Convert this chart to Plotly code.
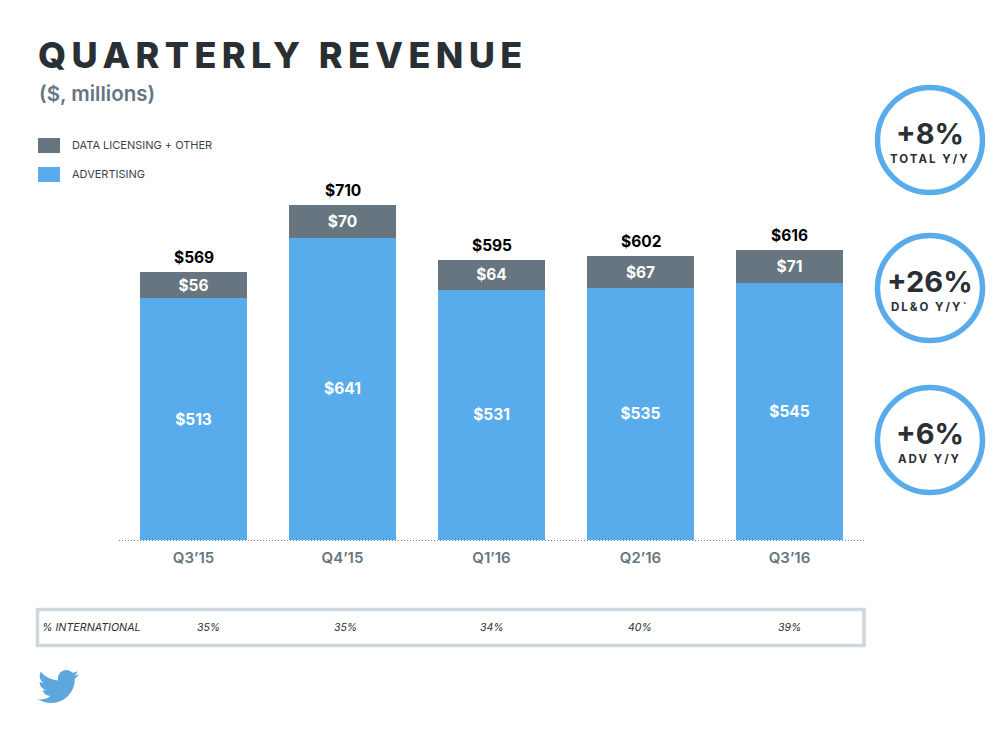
import plotly.graph_objects as go

# ---- data ----
quarters = ["Q3’15", "Q4’15", "Q1’16", "Q2’16", "Q3’16"]
advertising = [513, 641, 531, 535, 545]
data_licensing = [56, 70, 64, 67, 71]
totals = [569, 710, 595, 602, 616]
international = ["35%", "35%", "34%", "40%", "39%"]
kpi_values = ["+8%", "+26%", "+6%"]
kpi_labels = ["TOTAL Y/Y", "DL&O Y/Y`", "ADV Y/Y"]

# ---- style ----
W, H = 1005, 745
BLUE, GREY, DARK, BORDER = "#58acec", "#66757f", "#292f33", "#cdd7df"
FONT = "Inter"
px = lambda x: x / W
py = lambda y: 1 - y / H

fig = go.Figure()
common = dict(x=quarters, width=0.712, textposition="inside", insidetextanchor="middle",
              textangle=0, constraintext="none",
              insidetextfont=dict(family=FONT, size=15.5, color="white", weight=700),
              marker_line_width=0, showlegend=False)
fig.add_bar(y=advertising, name="ADVERTISING", marker_color=BLUE,
            text=[f"${v}" for v in advertising], **common)
fig.add_bar(y=data_licensing, name="DATA LICENSING + OTHER", marker_color=GREY,
            text=[f"${v}" for v in data_licensing], **common)

shapes, notes = [], []


def note(x, y, text, size, color=DARK, weight=400, anchor="center", italic=False):
    notes.append(dict(x=px(x), y=py(y), xref="paper", yref="paper", text=text, showarrow=False,
                      xanchor=anchor, yanchor="middle", borderpad=0,
                      font=dict(family=FONT, size=size, color=color, weight=weight,
                                style="italic" if italic else "normal")))


def rect(x0, y0, x1, y1, **kw):
    shapes.append(dict(type="rect", xref="paper", yref="paper", x0=px(x0), x1=px(x1),
                       y0=py(y0), y1=py(y1), **kw))


# totals above each stack
for q, a, d, t in zip(quarters, advertising, data_licensing, totals):
    notes.append(dict(x=q, y=a + d, xref="x", yref="y", text=f"${t}", showarrow=False,
                      xanchor="center", yanchor="bottom", yshift=4, borderpad=0,
                      font=dict(family=FONT, size=15.5, color="black", weight=700)))

# subtitle
note(38, 94, "($, millions)", 20.5, GREY, 600, "left")

# legend
rect(38, 138, 60, 153, fillcolor=GREY, line_width=0)
rect(38, 167, 60, 182, fillcolor=BLUE, line_width=0)
note(71, 145, "DATA LICENSING + OTHER", 11, "#3a4248", 400, "left")
note(71, 174, "ADVERTISING", 11, "#3a4248", 400, "left")

# dotted baseline
shapes.append(dict(type="line", xref="paper", yref="paper", x0=px(119), x1=px(864),
                   y0=py(540.5), y1=py(540.5), line=dict(color="#777", width=1, dash="1px,2px")))

# international strip
rect(37.5, 609.5, 864, 645.5, line=dict(color=BORDER, width=3.5), fillcolor="rgba(0,0,0,0)")
note(41, 627, "% INTERNATIONAL", 10.7, DARK, 400, "left", True)
for cx, t in zip([208, 345, 492, 640, 789], international):
    note(cx, 627, t, 10.5, DARK, 400, "center", True)

# KPI circles
for cy, val, lab in zip([140, 288, 440], kpi_values, kpi_labels):
    shapes.append(dict(type="circle", xref="paper", yref="paper",
                       x0=px(930 - 52.5), x1=px(930 + 52.5), y0=py(cy - 52.5), y1=py(cy + 52.5),
                       line=dict(color=BLUE, width=5.5), fillcolor="white"))
    note(930, cy - 7, val, 29, DARK, 700)
    note(930, cy + 18.5, lab, 11.5, DARK, 700)

# Twitter bird logo, outlined in a 24-unit icon box
bird = [("M", 23.953, 4.57), ("Q", 22.6, 5.17, 21.128, 5.345), ("Q", 22.7, 4.4, 23.291, 2.622),
        ("C", 22.34, 3.177, 21.286, 3.581, 20.164, 3.806), ("C", 19.26, 2.85, 17.98, 2.1, 16.6, 2.1),
        ("C", 13.9, 2.1, 11.68, 4.3, 11.68, 7), ("C", 11.68, 7.4, 11.72, 7.85, 11.78, 8.288),
        ("C", 7.69, 8.095, 4.067, 6.13, 1.64, 3.162), ("Q", .974, 4.3, .974, 5.637),
        ("C", .974, 7.347, 1.844, 8.85, 3.162, 9.733), ("Q", 1.95, 9.7, .934, 9.117),
        ("L", .934, 9.177), ("Q", .95, 13.0, 4.88, 14.004), ("Q", 3.8, 14.3, 2.668, 14.089),
        ("Q", 3.6, 17.2, 7.272, 17.506), ("Q", 4.6, 19.6, 1.17, 19.611),
        ("C", .78, 19.611, .391, 19.588, 0, 19.544), ("Q", 3.5, 21.75, 7.557, 21.753),
        ("C", 16.61, 21.753, 21.555, 14.257, 21.555, 7.768), ("C", 21.555, 7.558, 21.555, 7.348, 21.54, 7.138),
        ("Q", 23, 6.1, 23.953, 4.57)]
path = ""
for seg in bird:
    pts = seg[1:]
    coords = []
    for i in range(0, len(pts), 2):
        coords.append(f"{px(38 + pts[i] * 1.708):.5f},{py(670 + (pts[i + 1] - 2.1) * 1.68):.5f}")
    path += seg[0] + " ".join(coords) + " "
shapes.append(dict(type="path", xref="paper", yref="paper", path=path + "Z",
                   fillcolor="#5ea7dc", line_width=0))

fig.update_layout(
    width=W, height=H, margin=dict(l=0, r=0, t=0, b=0, pad=0), autosize=False,
    paper_bgcolor="white", plot_bgcolor="white", barmode="stack", showlegend=False,
    title=dict(text="QUARTERLY REVENUE", x=px(38), y=py(55.5), xref="paper", yref="paper",
               xanchor="left", yanchor="middle",
               font=dict(family=FONT, size=36, color=DARK, weight=800)),
    xaxis=dict(domain=[px(119), px(864)], range=[-0.5, 4.5], showgrid=False, zeroline=False,
               showline=False, ticks="", ticklen=0, ticklabelstandoff=7,
               tickfont=dict(family=FONT, size=15, color=GREY, weight=600)),
    yaxis=dict(domain=[py(540), py(163)], range=[0, 800], visible=False, fixedrange=True),
    shapes=shapes, annotations=notes,
)

post = """
document.body.style.margin = '0';
var t = document.querySelector('.gtitle');
if (t) t.style.letterSpacing = '5.4px';
document.querySelectorAll('.annotation-text').forEach(function (e) {
  if (/Y\\/Y/.test(e.textContent)) e.style.letterSpacing = '2px';
});
"""
fig.write_html("out.html", post_script=post, config=dict(displayModeBar=False))
